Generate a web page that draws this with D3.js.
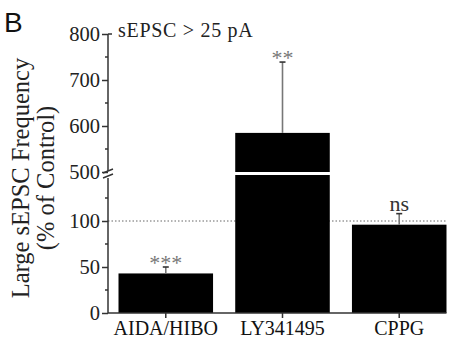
<!DOCTYPE html>
<html>
<head>
<meta charset="utf-8">
<script src="https://cdn.jsdelivr.net/npm/d3@7"></script>
<style>
body { margin: 0; background: #fff; }
</style>
</head>
<body>
<script>
"use strict";
const categories = ["AIDA/HIBO", "LY341495", "CPPG"];
const means = [43, 585, 96];
const sems = [7, 154, 12];
const marks = ["***", "**", "ns"];
const lowTicks = [0, 50, 100];
const lowMinor = [25, 75, 125];
const highTicks = [500, 600, 700, 800];
const highMinor = [550, 650, 750];

const serif = "Liberation Serif";
const w = 453, h = 345;
const svg = d3.select("body").append("svg").attr("width", w).attr("height", h);

const ax = 108;
const x = d3.scaleBand().domain(categories).range([ax, 457]).paddingInner(0.19).paddingOuter(0.09);
const yLow = d3.scaleLinear().domain([0, 150]).range([313, 175]);
const yHigh = d3.scaleLinear().domain([500, 800]).range([172, 34]);
const y = v => v > 150 ? yHigh(v) : yLow(v);
const xEnd = x(categories[2]) + x.bandwidth();

// reference line at 100%
svg.append("line").attr("x1", ax).attr("x2", xEnd).attr("y1", yLow(100)).attr("y2", yLow(100))
	.attr("stroke", "#666").attr("stroke-width", 1).attr("stroke-dasharray", "1.5,2");

// bars (broken for values above the break)
categories.forEach((c, i) => {
	const v = means[i];
	if (v > 150) {
		svg.append("rect").attr("x", x(c)).attr("width", x.bandwidth())
			.attr("y", yLow(150)).attr("height", yLow(0) - yLow(150)).attr("fill", "#000");
		svg.append("rect").attr("x", x(c)).attr("width", x.bandwidth())
			.attr("y", yHigh(v)).attr("height", yHigh(500) - yHigh(v)).attr("fill", "#000");
	} else {
		svg.append("rect").attr("x", x(c)).attr("width", x.bandwidth())
			.attr("y", yLow(v)).attr("height", yLow(0) - yLow(v)).attr("fill", "#000");
	}
	const cx = x(c) + x.bandwidth() / 2;
	const top = y(v + sems[i]);
	svg.append("line").attr("x1", cx).attr("x2", cx).attr("y1", y(v)).attr("y2", top)
		.attr("stroke", "#777").attr("stroke-width", 1.6);
	svg.append("line").attr("x1", cx - 3).attr("x2", cx + 3).attr("y1", top).attr("y2", top)
		.attr("stroke", "#333").attr("stroke-width", 1.6);
	const isNs = marks[i] == "ns";
	svg.append("text").attr("x", cx).attr("y", isNs ? top - 3 : top + 3)
		.attr("text-anchor", "middle")
		.attr("font-family", serif)
		.attr("font-size", 22)
		.attr("fill", isNs ? "#333" : "#777")
		.text(marks[i]);
});

// y axis (two segments)
const yAxisLow = d3.axisLeft(yLow).tickValues(lowTicks).tickSize(6).tickPadding(2);
const yAxisHigh = d3.axisLeft(yHigh).tickValues(highTicks).tickSize(6).tickPadding(2);
const gl = svg.append("g").attr("transform", "translate(" + ax + ",0)").call(yAxisLow);
const gh = svg.append("g").attr("transform", "translate(" + ax + ",0)").call(yAxisHigh);
[gl, gh].forEach(g => {
	g.select(".domain").remove();
	g.selectAll("line").attr("stroke", "#333").attr("stroke-width", 1.5);
	g.selectAll("text").attr("font-family", serif).attr("font-size", 20.5).attr("fill", "#222");
});
svg.append("line").attr("x1", ax).attr("x2", ax).attr("y1", yLow(0)).attr("y2", 178)
	.attr("stroke", "#333").attr("stroke-width", 1.5);
svg.append("line").attr("x1", ax).attr("x2", ax).attr("y1", 171).attr("y2", yHigh(800))
	.attr("stroke", "#333").attr("stroke-width", 1.5);
svg.append("line").attr("x1", ax).attr("x2", ax + 4).attr("y1", yHigh(800)).attr("y2", yHigh(800))
	.attr("stroke", "#333").attr("stroke-width", 1.5);
svg.selectAll(".minorL").data(lowMinor).enter().append("line")
	.attr("x1", ax - 3).attr("x2", ax).attr("y1", d => yLow(d)).attr("y2", d => yLow(d))
	.attr("stroke", "#333").attr("stroke-width", 1.5);
svg.selectAll(".minorH").data(highMinor).enter().append("line")
	.attr("x1", ax - 3).attr("x2", ax).attr("y1", d => yHigh(d)).attr("y2", d => yHigh(d))
	.attr("stroke", "#333").attr("stroke-width", 1.5);
// break marks
[171, 176].forEach(yy => {
	svg.append("line").attr("x1", ax - 5).attr("x2", ax + 5).attr("y1", yy + 2).attr("y2", yy - 2)
		.attr("stroke", "#333").attr("stroke-width", 1.5);
});

// x axis
const xAxis = d3.axisBottom(x).tickSize(5).tickPadding(3);
const gx = svg.append("g").attr("transform", "translate(0," + yLow(0) + ")").call(xAxis);
gx.select(".domain").remove();
gx.selectAll("line").attr("stroke", "#333").attr("stroke-width", 1.5);
gx.selectAll("text").attr("font-family", serif).attr("font-size", 20).attr("fill", "#111");
svg.append("line").attr("x1", ax).attr("x2", xEnd).attr("y1", yLow(0)).attr("y2", yLow(0))
	.attr("stroke", "#333").attr("stroke-width", 1.5);

// titles
svg.append("text").attr("transform", "translate(29,178) rotate(-90)").attr("text-anchor", "middle")
	.attr("font-family", serif).attr("font-size", 24.5).attr("fill", "#222").text("Large sEPSC Frequency");
svg.append("text").attr("transform", "translate(54,178) rotate(-90)").attr("text-anchor", "middle")
	.attr("font-family", serif).attr("font-size", 24.5).attr("fill", "#222").text("(% of Control)");
svg.append("text").attr("x", 118).attr("y", 37).attr("font-family", serif).attr("font-size", 20)
	.attr("letter-spacing", 0.7).attr("fill", "#222").text("sEPSC > 25 pA");
svg.append("text").attr("x", 4).attr("y", 32).attr("font-size", 28).attr("fill", "#111")
	.attr("font-family", "Liberation Sans").text("B");
</script>
</body>
</html>
